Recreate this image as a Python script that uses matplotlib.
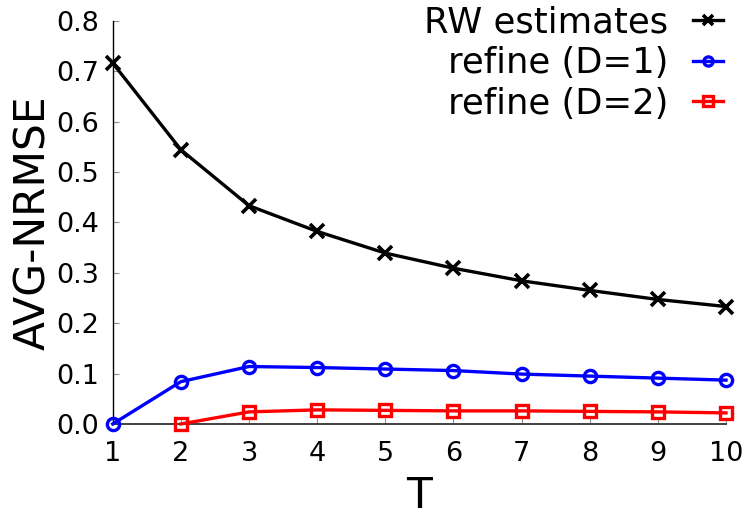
import matplotlib
matplotlib.use("Agg")
import matplotlib.pyplot as plt

plt.rcParams["font.family"] = ["DejaVu Sans"]

t_values = [1, 2, 3, 4, 5, 6, 7, 8, 9, 10]
rw_estimates = [0.716, 0.544, 0.433, 0.382, 0.339, 0.309, 0.284, 0.265, 0.247, 0.233]
t_refine_d1 = [1, 2, 3, 4, 5, 6, 7, 8, 9, 10]
refine_d1 = [0.0, 0.084, 0.114, 0.112, 0.109, 0.106, 0.099, 0.095, 0.091, 0.087]
t_refine_d2 = [2, 3, 4, 5, 6, 7, 8, 9, 10]
refine_d2 = [0.0, 0.024, 0.028, 0.027, 0.026, 0.026, 0.025, 0.024, 0.022]
y_ticks = [0.0, 0.1, 0.2, 0.3, 0.4, 0.5, 0.6, 0.7, 0.8]

fig = plt.figure(figsize=(7.5, 5.25), dpi=100)
ax = fig.add_axes([0.1503, 0.1924, 0.8177, 0.7682])

ax.plot(t_values, rw_estimates, color="black", lw=2.4, marker="x",
        ms=10, mew=2.6, label="RW estimates", clip_on=False, zorder=3)
ax.plot(t_refine_d1, refine_d1, color="#0000ff", lw=2.4, marker="o",
        ms=8.8, mew=2.4, mfc="none", label="refine (D=1)", clip_on=False, zorder=3)
ax.plot(t_refine_d2, refine_d2, color="#ff0000", lw=2.4, marker="s",
        ms=9.0, mew=2.4, mfc="none", label="refine (D=2)", clip_on=False, zorder=3)

ax.set_xlim(1, 10)
ax.set_ylim(0, 0.8)
ax.set_xticks(t_values)
ax.set_yticks(y_ticks)
ax.set_yticklabels([f"{v:.1f}" for v in y_ticks])

for side in ["top", "right"]:
    ax.spines[side].set_visible(False)
ax.spines["left"].set_linewidth(1.0)
ax.spines["bottom"].set_linewidth(1.3)
ax.spines["bottom"].set_color("#333333")

ax.tick_params(axis="both", direction="in", length=4.5, width=0.8,
               color="#909090", labelsize=19.5)
ax.tick_params(axis="y", pad=10)
ax.tick_params(axis="x", pad=12)

ax.set_xlabel("T", fontsize=30.5, labelpad=6)
ax.set_ylabel("AVG-NRMSE", fontsize=30.5, labelpad=1.5)

ax.legend(loc="upper right", bbox_to_anchor=(0.964, 0.99),
          bbox_transform=fig.transFigure, frameon=False, markerfirst=False,
          fontsize=25.5, handlelength=0.85, handletextpad=0.7,
          labelspacing=0.19, borderpad=0, borderaxespad=0, markerscale=0.75)

fig.savefig("out.png", dpi=100)
